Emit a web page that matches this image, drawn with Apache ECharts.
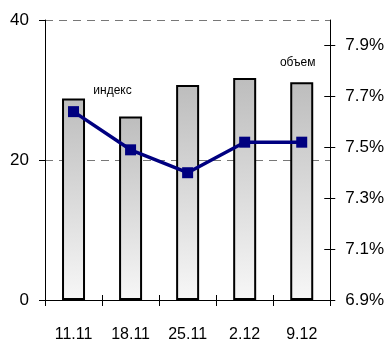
<!DOCTYPE html>
<html>
<head>
<meta charset="utf-8">
<script src="https://cdn.jsdelivr.net/npm/echarts@6/dist/echarts.min.js"></script>
<style>
  html, body { margin: 0; padding: 0; background: #fff; }
  #chart { width: 387px; height: 345px; }
</style>
</head>
<body>
<div id="chart"></div>
<script>
// Weekly dates
const categories = ['11.11', '18.11', '25.11', '2.12', '9.12'];
// Volume (left axis), bars
const volume = [28.8, 26.2, 30.7, 31.7, 31.1];
// Index, % (right axis), line
const indexPct = [7.64, 7.49, 7.40, 7.52, 7.52];
// Right axis tick values
const rightTicks = [6.9, 7.1, 7.3, 7.5, 7.7, 7.9];

const FONT = '"Liberation Sans", Arial, sans-serif';
const chart = echarts.init(document.getElementById('chart'), null, { renderer: 'canvas' });

const catAxisBase = {
  type: 'category',
  data: categories,
  boundaryGap: true,
  axisLine: { show: true, lineStyle: { color: '#000', width: 1 } }
};

chart.setOption({
  animation: false,
  backgroundColor: '#fff',
  grid: { left: 45, right: 55, top: 20, bottom: 45, containLabel: false },
  xAxis: [
    Object.assign({}, catAxisBase, {
      axisTick: { show: true, inside: false, length: 6, lineStyle: { color: '#000' } },
      axisLabel: { fontFamily: FONT, fontSize: 16, color: '#000', margin: 27 }
    }),
    Object.assign({}, catAxisBase, {
      position: 'bottom',
      axisTick: { show: true, inside: true, length: 5, lineStyle: { color: '#000' } },
      axisLabel: { show: false }
    })
  ],
  yAxis: [
    {
      type: 'value', position: 'left', min: 0, max: 40, interval: 20,
      axisLine: { show: true, lineStyle: { color: '#000' } },
      axisTick: { show: true, length: 6, lineStyle: { color: '#000' } },
      axisLabel: { fontFamily: FONT, fontSize: 17, color: '#000', margin: 16 },
      splitLine: { show: true, lineStyle: { color: '#777', type: [8, 6], width: 1 } }
    },
    {
      type: 'value', position: 'right', min: 6.9, max: 8.0,
      axisLine: { show: true, lineStyle: { color: '#000' } },
      axisTick: { show: true, length: 5, customValues: rightTicks, lineStyle: { color: '#000' } },
      axisLabel: {
        fontFamily: FONT, fontSize: 17, color: '#000', margin: 15,
        customValues: rightTicks,
        formatter: v => v.toFixed(1) + '%'
      },
      splitLine: { show: false }
    },
    {
      type: 'value', position: 'right', min: 6.9, max: 8.0,
      axisLine: { show: false },
      axisTick: { show: true, inside: true, length: 6, customValues: rightTicks, lineStyle: { color: '#000' } },
      axisLabel: { show: false },
      splitLine: { show: false }
    }
  ],
  series: [
    {
      name: 'объем',
      type: 'bar',
      xAxisIndex: 0,
      yAxisIndex: 0,
      data: volume,
      barWidth: 23,
      itemStyle: {
        color: new echarts.graphic.LinearGradient(0, 0, 0, 1, [
          { offset: 0, color: '#bdbdbd' },
          { offset: 1, color: '#f7f7f7' }
        ]),
        borderColor: '#000',
        borderWidth: 2
      },
      label: {
        show: true,
        position: 'top',
        distance: 14,
        offset: [-4, 0],
        fontFamily: FONT,
        fontSize: 12,
        color: '#000',
        formatter: p => (p.dataIndex === volume.length - 1 ? 'объем' : '')
      },
      z: 2
    },
    {
      name: 'индекс',
      type: 'line',
      xAxisIndex: 0,
      yAxisIndex: 1,
      data: indexPct,
      symbol: 'rect',
      symbolSize: 11,
      lineStyle: { color: '#000080', width: 3.5 },
      itemStyle: { color: '#000080' },
      label: {
        show: true,
        position: 'top',
        offset: [39, -4],
        fontFamily: FONT,
        fontSize: 12,
        color: '#000',
        formatter: p => (p.dataIndex === 0 ? 'индекс' : '')
      },
      z: 3
    }
  ]
});
</script>
</body>
</html>
